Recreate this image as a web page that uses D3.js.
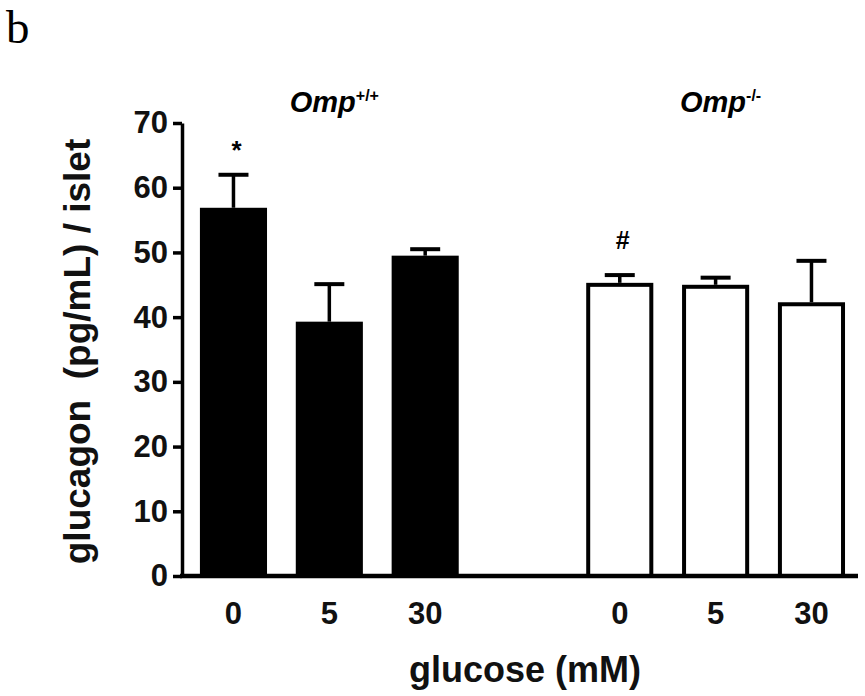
<!DOCTYPE html>
<html>
<head>
<meta charset="utf-8">
<script src="https://cdn.jsdelivr.net/npm/d3@7"></script>
<style>
  body { margin: 0; background: #fff; }
  svg { display: block; font-family: Arial, 'Liberation Sans', sans-serif; }
</style>
</head>
<body>
<div id="chart"></div>
<script>
const groups = ['wt', 'ko']
const groupNames = [['Omp', '+/+'], ['Omp', '-/-']]
const glucose = ['0', '5', '30']
const means = [[56.9, 39.3, 49.5], [45.3, 45.0, 42.3]]
const sems = [[5.1, 5.8, 1.0], [1.2, 1.1, 6.4]]
const marks = [['*', '', ''], ['#', '', '']]
const yTicks = [0, 10, 20, 30, 40, 50, 60, 70]

const W = 865
const H = 696
const AXIS = { LEFT: 182, RIGHT: 858, TOP: 123, BOTTOM: 576 }

const svg = d3.select('#chart')
  .append('svg')
  .attr('width', W)
  .attr('height', H)

// panel letter
svg.append('text')
  .attr('x', 6)
  .attr('y', 43)
  .attr('font-family', "'Liberation Serif', 'Times New Roman', serif")
  .attr('font-size', '47px')
  .text('b')

const y = d3.scaleLinear()
  .domain([0, 70])
  .range([AXIS.BOTTOM, AXIS.TOP])

const x0 = d3.scaleBand()
  .domain(groups)
  .range([AXIS.LEFT, AXIS.RIGHT])
  .paddingInner(0.33)
  .paddingOuter(0.04)
  .align(0.58)

const x1 = d3.scaleBand()
  .domain(glucose)
  .range([0, x0.bandwidth()])
  .paddingInner(0.3)
  .paddingOuter(0)

// rows for drawing
const rows = []
groups.forEach((g, gi) => {
  glucose.forEach((c, ci) => {
    rows.push({ g, gi, c, mean: means[gi][ci], sem: sems[gi][ci], mark: marks[gi][ci] })
  })
})
const bx = d => x0(d.g) + x1(d.c)
const cx = d => bx(d) + x1.bandwidth() / 2

// bars
svg.append('g')
  .selectAll('rect')
  .data(rows)
  .enter()
  .append('rect')
  .attr('x', d => d.gi === 0 ? bx(d) : bx(d) + 2)
  .attr('y', d => d.gi === 0 ? y(d.mean) : y(d.mean) + 2)
  .attr('width', d => d.gi === 0 ? x1.bandwidth() : x1.bandwidth() - 4)
  .attr('height', d => d.gi === 0 ? y(0) - y(d.mean) : y(0) - y(d.mean) - 2)
  .attr('fill', d => d.gi === 0 ? '#000' : '#fff')
  .attr('stroke', '#000')
  .attr('stroke-width', d => d.gi === 0 ? 0 : 4)

// error bars (upper only)
const err = svg.append('g').attr('stroke', '#000')
err.selectAll('line.stem')
  .data(rows)
  .enter()
  .append('line')
  .attr('class', 'stem')
  .attr('x1', cx).attr('x2', cx)
  .attr('y1', d => y(d.mean))
  .attr('y2', d => y(d.mean + d.sem))
  .attr('stroke-width', 3.5)
err.selectAll('line.cap')
  .data(rows)
  .enter()
  .append('line')
  .attr('class', 'cap')
  .attr('x1', d => cx(d) - 15).attr('x2', d => cx(d) + 15)
  .attr('y1', d => y(d.mean + d.sem))
  .attr('y2', d => y(d.mean + d.sem))
  .attr('stroke-width', 4)

// significance marks
svg.append('g')
  .selectAll('text')
  .data(rows.filter(d => d.mark))
  .enter()
  .append('text')
  .attr('x', d => cx(d) + 3)
  .attr('y', d => y(d.mean + d.sem) - (d.mark === '*' ? 16 : 26))
  .attr('text-anchor', 'middle')
  .attr('font-size', d => d.mark === '*' ? '26px' : '25px')
  .attr('font-weight', 'bold')
  .text(d => d.mark)

// y axis
const yAxis = svg.append('g')
  .attr('transform', `translate(${AXIS.LEFT}, 0)`)
  .call(d3.axisLeft(y).tickValues(yTicks).tickSize(9).tickSizeOuter(0).tickPadding(5))
yAxis.select('.domain').attr('stroke-width', 3.5)
yAxis.selectAll('.tick line').attr('stroke-width', 3.5)
yAxis.selectAll('.tick text')
  .attr('font-size', '31px')
  .attr('font-weight', 'bold')
  .attr('font-family', "Arial, 'Liberation Sans', sans-serif")
  .attr('fill', '#111')

// x axis line
svg.append('line')
  .attr('x1', AXIS.LEFT - 2)
  .attr('x2', AXIS.RIGHT)
  .attr('y1', y(0))
  .attr('y2', y(0))
  .attr('stroke', '#000')
  .attr('stroke-width', 4.5)

// x tick labels per group
groups.forEach(g => {
  const ax = svg.append('g')
    .attr('transform', `translate(${x0(g)}, ${y(0)})`)
    .call(d3.axisBottom(x1).tickSize(0).tickPadding(26))
  ax.select('.domain').remove()
  ax.selectAll('.tick text')
    .attr('font-size', '31px')
    .attr('font-weight', 'bold')
    .attr('font-family', "Arial, 'Liberation Sans', sans-serif")
    .attr('fill', '#111')
})

// group labels
groups.forEach((g, gi) => {
  const t = svg.append('text')
    .attr('x', x0(g) + x0.bandwidth() / 2 + 5)
    .attr('y', 112)
    .attr('text-anchor', 'middle')
    .attr('font-size', '29px')
    .attr('font-weight', 'bold')
    .attr('font-style', 'italic')
  t.append('tspan').text(groupNames[gi][0])
  t.append('tspan')
    .attr('font-size', '16px')
    .attr('dy', -11)
    .attr('font-style', 'normal')
    .text(groupNames[gi][1])
})

// axis titles
svg.append('text')
  .attr('x', (AXIS.LEFT + AXIS.RIGHT) / 2 + 5)
  .attr('y', 682)
  .attr('text-anchor', 'middle')
  .attr('font-size', '36px')
  .attr('font-weight', 'bold')
  .attr('fill', '#111')
  .text('glucose (mM)')

svg.append('text')
  .attr('transform', `translate(90, ${(AXIS.TOP + AXIS.BOTTOM) / 2 + 2}) rotate(-90)`)
  .attr('text-anchor', 'middle')
  .attr('font-size', '37px')
  .attr('font-weight', 'bold')
  .attr('fill', '#111')
  .style('white-space', 'pre')
  .text('glucagon  (pg/mL) / islet')
</script>
</body>
</html>
